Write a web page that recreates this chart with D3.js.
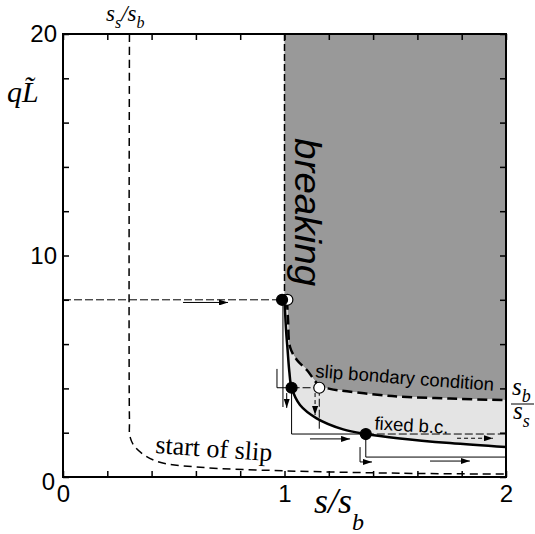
<!DOCTYPE html>
<html>
<head>
<meta charset="utf-8">
<script src="https://cdn.jsdelivr.net/npm/d3@7"></script>
<style>
body { margin: 0; background: #fff; }
svg { display: block; }
</style>
</head>
<body>
<svg id="chart"></svg>
<script>
// values: x = s/s_b, y = q*L~
const fixedS = [1.0, 1.007, 1.014, 1.022, 1.032, 1.070, 1.145, 1.265, 1.367, 1.521, 1.747, 2.0];
const fixedQ = [8.0, 6.64, 5.73, 4.74, 4.03, 3.25, 2.65, 2.15, 1.94, 1.74, 1.53, 1.35];

const slipS = [1.011, 1.016, 1.025, 1.056, 1.101, 1.156, 1.205, 1.282, 1.431, 1.521, 1.747, 2.0];
const slipQ = [8.0, 7.09, 5.87, 5.28, 4.83, 4.15, 3.98, 3.87, 3.70, 3.63, 3.54, 3.47];

const startS = [0.3, 0.3, 0.303, 0.33, 0.42, 0.62, 1.0, 1.52, 2.0];
const startQ = [20, 2.6, 1.8, 1.3, 0.72, 0.44, 0.28, 0.17, 0.13];

const ssOverSb = 0.3;     // s_s/s_b
const breakQ = 8;         // where breaking region starts
const xTickLabels = [0, 1, 2];
const yTickLabels = [0, 10, 20];

// dots on the diagram: [s, q, filled]
const dots = [
    [1.013, 8.0, false],
    [0.989, 8.0, true],
    [1.157, 4.03, false],
    [1.032, 4.03, true],
    [1.367, 1.94, true]
];

// small trajectory sketches
const solidPaths = [
    [[0.993, 7.86], [0.993, 3.16]],
    [[0.966, 4.88], [0.966, 4.03], [1.01, 4.03]],
    [[1.032, 4.03], [1.032, 1.94], [1.367, 1.94]],
    [[1.367, 1.94], [1.367, 0.90], [2.0, 0.90]]
];
const dashedPaths = [
    [[0, 8], [0.985, 8]],
    [[1.032, 4.03], [1.157, 4.03]],
    [[1.157, 4.03], [1.157, 2.05]],
    [[1.367, 1.94], [2.0, 1.94]]
];
const solidArrows = [
    [[0.542, 7.88], [0.745, 7.88]],
    [[1.01, 3.79], [1.01, 3.12]],
    [[1.115, 1.72], [1.296, 1.72]],
    [[1.341, 1.35], [1.341, 0.68], [1.395, 0.68]],
    [[1.657, 0.72], [1.837, 0.72]]
];
const dashedArrows = [
    [[1.138, 3.79], [1.138, 2.8]],
    [[1.779, 1.75], [1.941, 1.75]]
];

const W = 535, H = 534;
const margin = {top: 34, right: 29, bottom: 57, left: 63};
const iw = W - margin.left - margin.right;
const ih = H - margin.top - margin.bottom;

const svg = d3.select('#chart').attr('width', W).attr('height', H);

svg.append('defs').append('marker')
    .attr('id', 'arr')
    .attr('markerUnits', 'userSpaceOnUse')
    .attr('markerWidth', 9).attr('markerHeight', 6)
    .attr('refX', 9).attr('refY', 3)
    .attr('orient', 'auto')
    .append('path').attr('d', 'M0,0 L9,3 L0,6 Z').attr('fill', '#000');

const chart = svg.append('g')
    .attr('transform', `translate(${margin.left},${margin.top})`);

const xscale = d3.scaleLinear().domain([0, 2]).range([0, iw]);
const yscale = d3.scaleLinear().domain([0, 20]).range([ih, 0]);

const smooth = d3.line()
    .x(d => xscale(d[0])).y(d => yscale(d[1]))
    .curve(d3.curveCatmullRom.alpha(0.5));
const straight = d3.line()
    .x(d => xscale(d[0])).y(d => yscale(d[1]));

const fixedPts = fixedS.map((s, i) => [s, fixedQ[i]]);
const slipPts = slipS.map((s, i) => [s, slipQ[i]]);
const startPts = startS.map((s, i) => [s, startQ[i]]);

// breaking region (dark)
chart.append('path')
    .attr('d', smooth(slipPts)
        + `L${xscale(2)},${yscale(20)}L${xscale(1)},${yscale(20)}L${xscale(1)},${yscale(breakQ)}Z`)
    .attr('fill', '#999999');

// band between the two boundaries (light)
chart.append('path')
    .attr('d', smooth(slipPts) + smooth(fixedPts.slice().reverse()).replace(/^M/, 'L') + 'Z')
    .attr('fill', '#e4e4e4');

// boundary of breaking at s = s_b
chart.append('path')
    .attr('d', straight([[1, 20], [1, breakQ]]))
    .attr('fill', 'none').attr('stroke', '#000')
    .attr('stroke-width', 1.5).attr('stroke-dasharray', '7,3');

// start of slip
chart.append('path')
    .attr('d', smooth(startPts))
    .attr('fill', 'none').attr('stroke', '#000')
    .attr('stroke-width', 1.5).attr('stroke-dasharray', '8,5');

// slip boundary condition
chart.append('path')
    .attr('d', smooth(slipPts))
    .attr('fill', 'none').attr('stroke', '#000')
    .attr('stroke-width', 2.5).attr('stroke-dasharray', '10,5');

// fixed b.c.
chart.append('path')
    .attr('d', smooth(fixedPts))
    .attr('fill', 'none').attr('stroke', '#000')
    .attr('stroke-width', 2.5);

// trajectories
chart.selectAll('.sp').data(solidPaths).enter().append('path')
    .attr('d', straight).attr('fill', 'none')
    .attr('stroke', '#000').attr('stroke-width', 1);
chart.selectAll('.dp').data(dashedPaths).enter().append('path')
    .attr('d', straight).attr('fill', 'none')
    .attr('stroke', '#000').attr('stroke-width', 1).attr('stroke-dasharray', '8,3');
chart.selectAll('.sa').data(solidArrows).enter().append('path')
    .attr('d', straight).attr('fill', 'none')
    .attr('stroke', '#000').attr('stroke-width', 1)
    .attr('marker-end', 'url(#arr)');
chart.selectAll('.da').data(dashedArrows).enter().append('path')
    .attr('d', straight).attr('fill', 'none')
    .attr('stroke', '#000').attr('stroke-width', 1).attr('stroke-dasharray', '4,3')
    .attr('marker-end', 'url(#arr)');

chart.selectAll('circle').data(dots).enter().append('circle')
    .attr('cx', d => xscale(d[0])).attr('cy', d => yscale(d[1]))
    .attr('r', 5.5)
    .attr('fill', d => d[2] ? '#000' : '#fff')
    .attr('stroke', '#000').attr('stroke-width', 1.2);

// texts
const sans = "'Liberation Sans', Arial, sans-serif";
const serif = "'Liberation Serif', 'Times New Roman', serif";

chart.append('text')
    .attr('transform', `translate(${xscale(1.046)},${yscale(15.3)}) rotate(90)`)
    .attr('font-family', sans).attr('font-style', 'italic')
    .attr('font-size', 37).attr('textLength', 148).attr('lengthAdjust', 'spacingAndGlyphs')
    .text('breaking');

chart.append('text')
    .attr('transform', `translate(${xscale(1.138)},${yscale(4.5)}) rotate(4.3)`)
    .attr('font-family', sans).attr('font-size', 18.5)
    .text('slip bondary condition');

chart.append('text')
    .attr('transform', `translate(${xscale(1.405)},${yscale(2.15)}) rotate(3.5)`)
    .attr('font-family', sans).attr('font-size', 18.5)
    .text('fixed b.c.');

chart.append('text')
    .attr('transform', `translate(${xscale(0.415)},${yscale(1.08)}) rotate(4)`)
    .attr('font-family', serif).attr('font-size', 26)
    .text('start of slip');

// axes, ticks pointing inward
const xMinor = d3.range(0, 11).map(i => i * 0.2);
const yMinor = d3.range(0, 11).map(i => i * 2);
const isLabel = (list, d) => list.some(v => Math.abs(v - d) < 1e-6);

const xaxis_group = chart.append('g')
    .attr('transform', `translate(0,${ih})`)
    .call(d3.axisBottom(xscale).tickValues(xMinor).tickSizeInner(-6).tickSizeOuter(0)
        .tickPadding(8).tickFormat(d => isLabel(xTickLabels, d) ? Math.round(d) : ''));
const yaxis_group = chart.append('g')
    .call(d3.axisLeft(yscale).tickValues(yMinor).tickSizeInner(-6).tickSizeOuter(0)
        .tickPadding(6).tickFormat(d => isLabel(yTickLabels, d) ? Math.round(d) : ''));
const top_group = chart.append('g')
    .call(d3.axisTop(xscale).tickValues(xMinor).tickSizeInner(-6).tickSizeOuter(0).tickFormat(''));
const right_group = chart.append('g')
    .attr('transform', `translate(${iw},0)`)
    .call(d3.axisRight(yscale).tickValues(yMinor).tickSizeInner(-6).tickSizeOuter(0).tickFormat(''));

[xaxis_group, yaxis_group, top_group, right_group].forEach(g => {
    g.select('.domain').remove();
    g.selectAll('line').attr('stroke', '#000').attr('stroke-width', 1.5);
    g.selectAll('text').attr('font-family', sans).attr('font-size', 24).attr('fill', '#000');
});
yaxis_group.selectAll('text').filter(d => d === 0).attr('dy', '0.5em').attr('x', -8);

chart.append('rect')
    .attr('width', iw).attr('height', ih)
    .attr('fill', 'none').attr('stroke', '#000').attr('stroke-width', 2);

// axis titles
const xt = svg.append('text')
    .attr('x', 314).attr('y', 513)
    .attr('font-family', serif).attr('font-style', 'italic').attr('font-size', 36);
xt.append('tspan').text('s/s');
xt.append('tspan').attr('dy', 17).attr('font-size', 24).text('b');

const yt = svg.append('text')
    .attr('x', 7).attr('y', 102)
    .attr('font-family', serif).attr('font-style', 'italic').attr('font-size', 30);
yt.append('tspan').text('qL\u0303');

const tt = svg.append('text')
    .attr('x', 106).attr('y', 21)
    .attr('font-family', serif).attr('font-style', 'italic').attr('font-size', 23);
tt.append('tspan').text('s');
tt.append('tspan').attr('dy', 7).attr('font-size', 16).text('s');
tt.append('tspan').attr('dy', -7).text('/s');
tt.append('tspan').attr('dy', 7).attr('font-size', 16).text('b');

const num = svg.append('text')
    .attr('x', 512).attr('y', 395)
    .attr('font-family', serif).attr('font-style', 'italic').attr('font-size', 25);
num.append('tspan').text('s');
num.append('tspan').attr('dy', 7).attr('font-size', 18).text('b');
svg.append('line')
    .attr('x1', 511).attr('x2', 534).attr('y1', 404).attr('y2', 404)
    .attr('stroke', '#000').attr('stroke-width', 1);
const den = svg.append('text')
    .attr('x', 513).attr('y', 419)
    .attr('font-family', serif).attr('font-style', 'italic').attr('font-size', 25);
den.append('tspan').text('s');
den.append('tspan').attr('dy', 8).attr('font-size', 18).text('s');
</script>
</body>
</html>
